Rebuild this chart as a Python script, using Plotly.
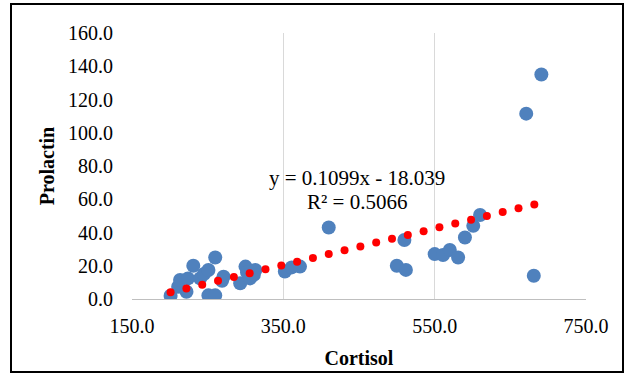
import numpy as np
import plotly.graph_objects as go

# Cortisol vs prolactin measurements
cortisol = [201, 211, 213.5, 222, 224, 231, 240, 245, 251, 260, 251, 260, 269, 271,
            293, 300, 302, 306, 311, 313, 352, 361, 372, 410, 500, 512, 510, 550,
            561, 570, 581, 590, 601, 610, 671, 681, 691]
prolactin = [2.0, 7.4, 11.4, 4.4, 12.4, 20.0, 12.4, 15.0, 17.4, 25.0, 2.2, 2.2, 11.0, 13.4,
             9.5, 19.5, 16.0, 12.4, 14.5, 17.4, 16.5, 19.0, 19.5, 43.0, 20.0, 17.5, 35.5, 27.0,
             26.5, 29.5, 25.0, 37.0, 44.0, 50.5, 111.5, 14.0, 135.0]

# Linear trendline coefficients
slope = 0.1099
intercept = -18.039
r_squared = 0.5066

x_ticks = [150, 350, 550, 750]
y_ticks = [0, 20, 40, 60, 80, 100, 120, 140, 160]

FONT = "Liberation Serif, Times New Roman, serif"

fig = go.Figure()
fig.add_trace(go.Scatter(
    x=cortisol, y=prolactin, mode="markers",
    marker=dict(color="#4F81BD", size=14, line=dict(width=0)),
    hoverinfo="x+y", showlegend=False,
))

# Round-dotted trendline: dots at a fixed step along the data range
dot_step = 20.9
tx = np.arange(min(cortisol), max(cortisol), dot_step)
ty = slope * tx + intercept
fig.add_trace(go.Scatter(
    x=tx, y=ty, mode="markers",
    marker=dict(color="#FF0000", size=8, line=dict(width=0)),
    hoverinfo="skip", showlegend=False,
))

fig.add_annotation(x=448, y=72.8, xref="x", yref="y", showarrow=False,
                   text=f"y = {slope}x - {abs(intercept)}",
                   font=dict(family=FONT, size=21, color="#000000"))
fig.add_annotation(x=448, y=58.3, xref="x", yref="y", showarrow=False,
                   text=f"R² = {r_squared}",
                   font=dict(family=FONT, size=21, color="#000000"))

W, H = 633, 376
L, R, T, B = 132, 47, 33, 77
pw, ph = W - L - R, H - T - B


def px_to_paper(px, py):
    return (px - L) / pw, (H - B - py) / ph


x0, y0 = px_to_paper(11, 372)
x1, y1 = px_to_paper(623, 4)
fig.add_shape(type="rect", xref="paper", yref="paper", x0=x0, y0=y0, x1=x1, y1=y1,
              line=dict(color="#000000", width=2), fillcolor="rgba(0,0,0,0)", layer="below")

fig.update_layout(
    width=W, height=H,
    margin=dict(l=L, r=R, t=T, b=B),
    paper_bgcolor="white", plot_bgcolor="white",
    font=dict(family=FONT, size=20, color="#000000"),
    xaxis=dict(
        range=[150, 750], tickvals=x_ticks, ticktext=[f"{v:.1f}" for v in x_ticks],
        showgrid=True, gridcolor="#D9D9D9", gridwidth=1,
        showline=True, linecolor="#BFBFBF", linewidth=1,
        zeroline=False, ticks="", ticklabelstandoff=9,
        title=dict(text="<b>Cortisol</b>", font=dict(family=FONT, size=20), standoff=14),
        fixedrange=True,
    ),
    yaxis=dict(
        range=[0, 160], tickvals=y_ticks, ticktext=[f"{v:.1f}" for v in y_ticks],
        showgrid=False, showline=False, zeroline=False, ticks="",
        ticklabelstandoff=18,
        title=dict(text="<b>Prolactin</b>", font=dict(family=FONT, size=20), standoff=8),
        fixedrange=True,
    ),
)

fig.write_html("out.html")
